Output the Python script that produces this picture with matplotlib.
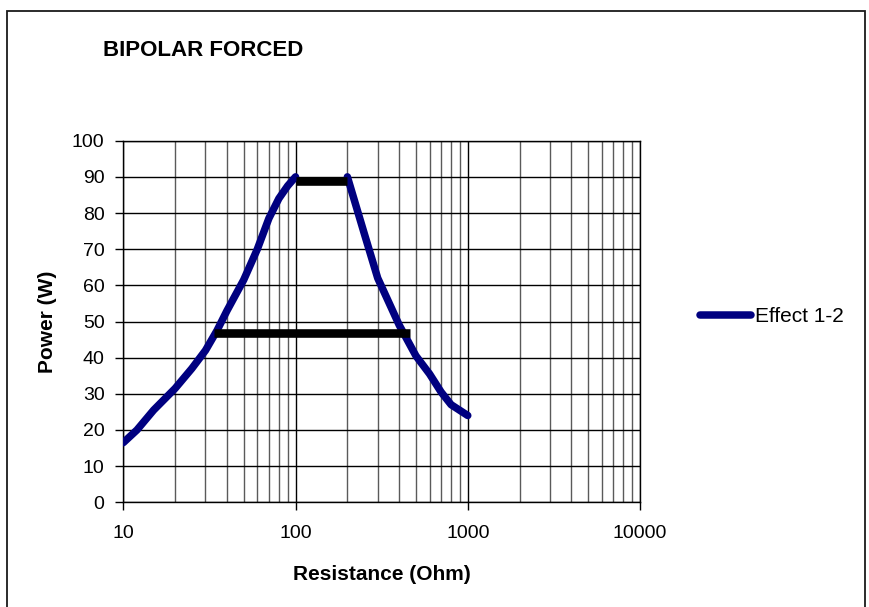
import matplotlib
matplotlib.use("Agg")
import matplotlib.pyplot as plt
from matplotlib.patches import Rectangle
from matplotlib.ticker import LogLocator, FixedLocator, NullFormatter, FuncFormatter

plt.rcParams['font.family'] = ['Liberation Sans', 'DejaVu Sans']

# Power of the "Effect 1-2" output versus load resistance:
# rising flank up to the 100 Ohm peak, falling flank from 200 Ohm
rise_r = [10, 12, 15, 20, 25, 30, 35, 40, 50, 60, 70, 80, 90, 100]
rise_p = [16.5, 20, 25.5, 31.5, 37, 42, 47.5, 53, 61.5, 70, 78.5, 84, 87.5, 90]
fall_r = [200, 250, 300, 400, 500, 600, 700, 800, 1000]
fall_p = [90, 74.5, 62, 49, 40.5, 35.5, 30.5, 27, 24]

# Highlighted power levels (black bars)
bar_top_r = [100, 200]
bar_top_p = [88.9, 88.9]
bar_mid_r = [33.6, 460]
bar_mid_p = [46.8, 46.8]

y_ticks = [0, 10, 20, 30, 40, 50, 60, 70, 80, 90, 100]
x_ticks = [10, 100, 1000, 10000]

W, H = 870, 607
fig = plt.figure(figsize=(W / 100, H / 100), dpi=100)
fig.patch.set_facecolor('white')

left, right, top, bottom = 123.3, 640, 140.7, 502.3
ax = fig.add_axes([left / W, 1 - bottom / H, (right - left) / W, (bottom - top) / H])

ax.set_xscale('log')
ax.set_xlim(10, 10000)
ax.set_ylim(0, 100)

# grid: decades and y lines black, minor decades grey
ax.xaxis.set_major_locator(FixedLocator(x_ticks))
ax.xaxis.set_minor_locator(LogLocator(base=10, subs=range(2, 10), numticks=20))
ax.xaxis.set_minor_formatter(NullFormatter())
ax.xaxis.set_major_formatter(FuncFormatter(lambda v, p: f"{int(round(v))}"))
ax.set_yticks(y_ticks)
ax.grid(True, which='major', axis='both', color='black', linewidth=1.0)
ax.grid(True, which='minor', axis='x', color='#5a5a5a', linewidth=1.0)
ax.set_axisbelow(True)

ax.tick_params(axis='both', which='major', direction='out', length=6, width=1,
               color='black', labelsize=14)
ax.tick_params(axis='y', which='major', pad=7.5)
ax.tick_params(axis='x', which='minor', length=0)
ax.tick_params(axis='x', which='major', pad=10)

for side in ax.spines.values():
    side.set_color('black')
    side.set_linewidth(1.0)

line_style = dict(color='#000080', linewidth=5.4, solid_capstyle='round',
                  solid_joinstyle='round', zorder=3)
ax.plot(rise_r, rise_p, label='Effect 1-2', **line_style)
ax.plot(fall_r, fall_p, **line_style)
ax.plot(bar_top_r, bar_top_p, color='black', linewidth=6.2,
        solid_capstyle='butt', zorder=4)
ax.plot(bar_mid_r, bar_mid_p, color='black', linewidth=6.2,
        solid_capstyle='butt', zorder=4)

ax.set_xlabel('Resistance (Ohm)', fontsize=15, fontweight='bold', labelpad=17)
ax.set_ylabel('Power (W)', fontsize=15, fontweight='bold', labelpad=11)

fig.text(103 / W, 1 - 51 / H, 'BIPOLAR FORCED', fontsize=16, fontweight='bold',
         ha='left', va='center')

# legend entry drawn in figure coordinates
fig.add_artist(plt.Line2D([700 / W, 751 / W], [1 - 315 / H, 1 - 315 / H],
                          color='#000080', linewidth=5.4, solid_capstyle='round',
                          transform=fig.transFigure))
fig.text(755 / W, 1 - 316 / H, 'Effect 1-2', fontsize=15, ha='left', va='center')

# chart frame
fig.add_artist(Rectangle((7 / W, -0.02), (865 - 7) / W, (1 - 10.7 / H) + 0.02,
                         transform=fig.transFigure, fill=False,
                         edgecolor='#1a1a1a', linewidth=1.3))

fig.savefig('out.png', dpi=100, facecolor='white')
